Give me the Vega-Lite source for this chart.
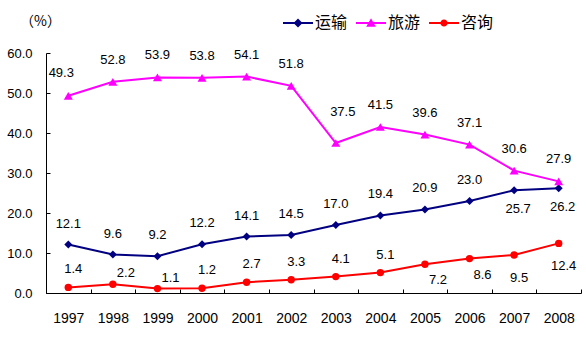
{
  "$schema": "https://vega.github.io/schema/vega-lite/v6.json",
  "width": 535,
  "height": 240,
  "autosize": {"type": "none"},
  "padding": {"left": 46, "top": 53, "right": 5, "bottom": 59},
  "background": "white",
  "config": {
    "view": {"stroke": null},
    "font": "Liberation Sans",
    "axis": {"grid": false, "domainColor": "black", "tickColor": "black", "labelColor": "black", "labelFont": "Liberation Sans", "domainWidth": 1, "tickWidth": 1}
  },
  "data": {
    "values": [
      {"year": 1997, "series": "运输", "value": 12.1},
      {"year": 1998, "series": "运输", "value": 9.6},
      {"year": 1999, "series": "运输", "value": 9.2},
      {"year": 2000, "series": "运输", "value": 12.2},
      {"year": 2001, "series": "运输", "value": 14.1},
      {"year": 2002, "series": "运输", "value": 14.5},
      {"year": 2003, "series": "运输", "value": 17.0},
      {"year": 2004, "series": "运输", "value": 19.4},
      {"year": 2005, "series": "运输", "value": 20.9},
      {"year": 2006, "series": "运输", "value": 23.0},
      {"year": 2007, "series": "运输", "value": 25.7},
      {"year": 2008, "series": "运输", "value": 26.2},
      {"year": 1997, "series": "旅游", "value": 49.3},
      {"year": 1998, "series": "旅游", "value": 52.8},
      {"year": 1999, "series": "旅游", "value": 53.9},
      {"year": 2000, "series": "旅游", "value": 53.8},
      {"year": 2001, "series": "旅游", "value": 54.1},
      {"year": 2002, "series": "旅游", "value": 51.8},
      {"year": 2003, "series": "旅游", "value": 37.5},
      {"year": 2004, "series": "旅游", "value": 41.5},
      {"year": 2005, "series": "旅游", "value": 39.6},
      {"year": 2006, "series": "旅游", "value": 37.1},
      {"year": 2007, "series": "旅游", "value": 30.6},
      {"year": 2008, "series": "旅游", "value": 27.9},
      {"year": 1997, "series": "咨询", "value": 1.4},
      {"year": 1998, "series": "咨询", "value": 2.2},
      {"year": 1999, "series": "咨询", "value": 1.1},
      {"year": 2000, "series": "咨询", "value": 1.2},
      {"year": 2001, "series": "咨询", "value": 2.7},
      {"year": 2002, "series": "咨询", "value": 3.3},
      {"year": 2003, "series": "咨询", "value": 4.1},
      {"year": 2004, "series": "咨询", "value": 5.1},
      {"year": 2005, "series": "咨询", "value": 7.2},
      {"year": 2006, "series": "咨询", "value": 8.6},
      {"year": 2007, "series": "咨询", "value": 9.5},
      {"year": 2008, "series": "咨询", "value": 12.4}
    ]
  },
  "encoding": {
    "x": {
      "field": "year", "type": "ordinal",
      "scale": {"type": "band", "paddingInner": 0, "paddingOuter": 0},
      "axis": {"title": null, "labelAngle": 0, "tickBand": "extent", "tickSize": -4, "labelPadding": 22, "labelFontSize": 14}
    },
    "y": {
      "field": "value", "type": "quantitative",
      "scale": {"domain": [0, 60], "nice": false},
      "axis": {
        "values": [0, 10, 20, 30, 40, 50, 60], "format": ".1f", "tickSize": -4, "labelPadding": 18, "labelFontSize": 13,
        "title": "（%）", "titleAngle": 0, "titleX": -6, "titleY": -32, "titleAlign": "center", "titleBaseline": "middle",
        "titleFont": "Noto Sans CJK SC", "titleFontSize": 14, "titleFontWeight": "normal", "titleColor": "black"
      }
    },
    "color": {
      "field": "series", "type": "nominal",
      "scale": {"domain": ["运输", "旅游", "咨询"], "range": ["#000080", "#FF00FF", "#FF0000"]},
      "legend": {
        "orient": "none", "legendX": 237, "legendY": -45, "direction": "horizontal", "title": null,
        "symbolSize": 900, "symbolStrokeWidth": 0, "labelFont": "Noto Sans CJK SC", "labelFontSize": 16,
        "labelColor": "black", "labelOffset": 2, "columnPadding": 8, "padding": 0,
        "encode": {
          "symbols": {
            "update": {
              "shape": {"signal": "datum.value === '运输' ? 'M-1,-0.067H1V0.067H-1Z M0,-0.3L0.3,0L0,0.3L-0.3,0Z' : datum.value === '旅游' ? 'M-1,-0.067H1V0.067H-1Z M0,-0.32L0.32,0.25L-0.32,0.25Z' : 'M-1,-0.067H1V0.067H-1Z M-0.24,0A0.24,0.24,0,1,1,0.24,0A0.24,0.24,0,1,1,-0.24,0Z'"},
              "fill": {"signal": "datum.value === '运输' ? '#000080' : datum.value === '旅游' ? '#FF00FF' : '#FF0000'"},
              "stroke": {"value": "transparent"},
              "size": {"value": 900},
              "opacity": {"value": 1}
            }
          }
        }
      }
    }
  },
  "layer": [
    {"mark": {"type": "line", "strokeWidth": 2}},
    {
      "transform": [{"filter": "datum.series === '运输'"}],
      "mark": {"type": "point", "filled": true, "opacity": 1, "shape": "diamond", "size": 64}
    },
    {
      "transform": [{"filter": "datum.series === '旅游'"}],
      "mark": {"type": "point", "filled": true, "opacity": 1, "shape": "triangle-up", "size": 80}
    },
    {
      "transform": [{"filter": "datum.series === '咨询'"}],
      "mark": {"type": "point", "filled": true, "opacity": 1, "shape": "circle", "size": 55}
    },
    {
      "transform": [{"filter": "datum.series === '旅游' && datum.year != 1997 && datum.year != 2003"}],
      "mark": {"type": "text", "dy": -22, "fontSize": 13, "font": "Liberation Sans"},
      "encoding": {"text": {"field": "value", "type": "quantitative", "format": ".1f"}, "color": {"value": "black"}}
    },
    {
      "transform": [{"filter": "datum.series === '旅游' && datum.year == 1997"}],
      "mark": {"type": "text", "dx": -7, "dy": -23, "fontSize": 13, "font": "Liberation Sans"},
      "encoding": {"text": {"field": "value", "type": "quantitative", "format": ".1f"}, "color": {"value": "black"}}
    },
    {
      "transform": [{"filter": "datum.series === '旅游' && datum.year == 2003"}],
      "mark": {"type": "text", "dx": 7, "dy": -31, "fontSize": 13, "font": "Liberation Sans"},
      "encoding": {"text": {"field": "value", "type": "quantitative", "format": ".1f"}, "color": {"value": "black"}}
    },
    {
      "transform": [{"filter": "datum.series === '运输' && datum.year <= 2006"}],
      "mark": {"type": "text", "dy": -21, "fontSize": 13, "font": "Liberation Sans"},
      "encoding": {"text": {"field": "value", "type": "quantitative", "format": ".1f"}, "color": {"value": "black"}}
    },
    {
      "transform": [{"filter": "datum.series === '运输' && datum.year >= 2007"}],
      "mark": {"type": "text", "dx": 4, "dy": 19, "fontSize": 13, "font": "Liberation Sans"},
      "encoding": {"text": {"field": "value", "type": "quantitative", "format": ".1f"}, "color": {"value": "black"}}
    },
    {
      "transform": [{"filter": "datum.series === '咨询' && (datum.year == 1997 || (datum.year >= 2000 && datum.year <= 2004))"}],
      "mark": {"type": "text", "dx": 5, "dy": -18, "fontSize": 13, "font": "Liberation Sans"},
      "encoding": {"text": {"field": "value", "type": "quantitative", "format": ".1f"}, "color": {"value": "black"}}
    },
    {
      "transform": [{"filter": "datum.series === '咨询' && (datum.year == 1998 || datum.year == 1999)"}],
      "mark": {"type": "text", "dx": 13, "dy": -11, "fontSize": 13, "font": "Liberation Sans"},
      "encoding": {"text": {"field": "value", "type": "quantitative", "format": ".1f"}, "color": {"value": "black"}}
    },
    {
      "transform": [{"filter": "datum.series === '咨询' && (datum.year == 2005 || datum.year == 2006)"}],
      "mark": {"type": "text", "dx": 13, "dy": 16, "fontSize": 13, "font": "Liberation Sans"},
      "encoding": {"text": {"field": "value", "type": "quantitative", "format": ".1f"}, "color": {"value": "black"}}
    },
    {
      "transform": [{"filter": "datum.series === '咨询' && datum.year >= 2007"}],
      "mark": {"type": "text", "dx": 5, "dy": 23, "fontSize": 13, "font": "Liberation Sans"},
      "encoding": {"text": {"field": "value", "type": "quantitative", "format": ".1f"}, "color": {"value": "black"}}
    }
  ]
}
